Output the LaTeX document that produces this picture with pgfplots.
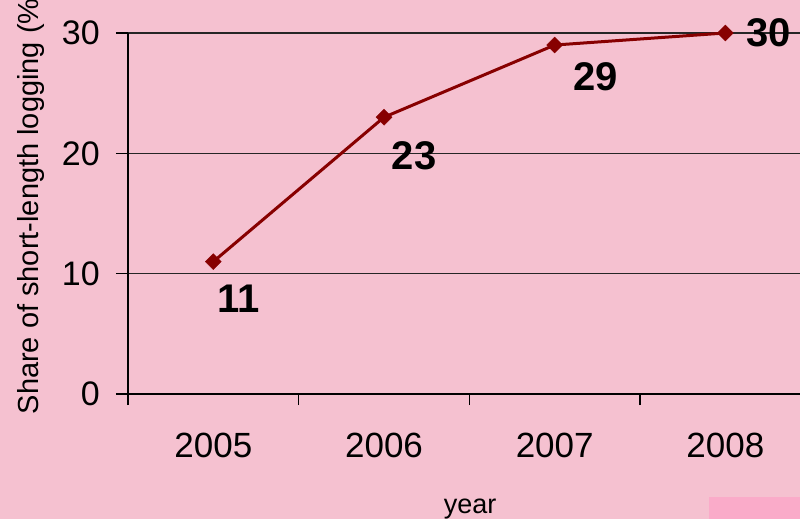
\documentclass[border=0pt]{standalone}
\usepackage{pgfplots}
\pgfplotsset{compat=1.18}
\usepackage{fontspec}
\setmainfont{Liberation Sans}
\definecolor{bgpink}{RGB}{245,193,208}
\definecolor{boxpink}{RGB}{250,171,201}
\definecolor{linered}{RGB}{135,0,0}
\begin{document}
\begin{tikzpicture}[x=1pt,y=1pt]
\useasboundingbox (0,0) rectangle (800,519);
\clip (0,0) rectangle (800,519);
\fill[bgpink] (0,0) rectangle (800,519);
\fill[boxpink] (709,0) rectangle (800,22);
\begin{axis}[
  at={(128pt,125pt)}, anchor=south west,
  scale only axis, width=682.7pt, height=361pt,
  xmin=-0.5, xmax=3.5, ymin=0, ymax=30,
  axis lines=left, axis line style={-, line width=1.4pt},
  xtick={0,1,2,3}, xticklabels={2005,2006,2007,2008},
  minor xtick={-0.5,0.5,1.5,2.5,3.5},
  major x tick style={draw=none},
  minor tick length=11pt,
  ytick={0,10,20,30}, major tick length=12pt,
  tick align=outside,
  tick style={black, line width=1.2pt},
  ymajorgrids, grid style={black!85, line width=1.1pt},
  /pgf/number format/assume math mode=true,
  yticklabel style={font=\fontsize{34}{34}\selectfont, inner sep=2pt, xshift=-14pt},
  xticklabel style={font=\fontsize{35}{35}\selectfont, yshift=-24pt},
  xlabel={year}, ylabel={Share of short-length logging (\%)},
  xlabel style={font=\fontsize{27}{27}\selectfont, at={(axis description cs:0.501,-0.32)}, anchor=center},
  ylabel style={font=\fontsize{29}{29}\selectfont, at={(axis description cs:-0.117,-0.066)}, anchor=south west, rotate=0},
  clip=false,
  nodes near coords,
  point meta=explicit,
  visualization depends on={\thisrow{dx}\as\dx},
  visualization depends on={\thisrow{dy}\as\dy},
  nodes near coords style={font=\bfseries\fontsize{40}{40}\selectfont, anchor=center, xshift=\dx pt, yshift=\dy pt, text=black},
]
\addplot[linered, line width=3pt, mark=square*, mark size=5.6pt,
  mark options={rotate=45, fill=linered, draw=linered, line width=0.5pt}]
  table[x=x, y=y, meta=y] {
  x y  dx dy
  0 11 25 -37
  1 23 30 -39
  2 29 41 -32
  3 30 43 0
};
\end{axis}
\end{tikzpicture}
\end{document}
